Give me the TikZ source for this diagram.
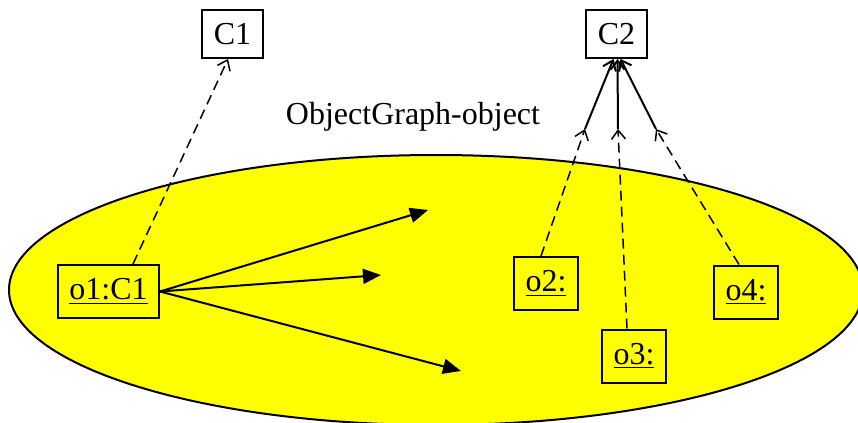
\documentclass[tikz,border=0pt]{standalone}
\usepackage{fontspec}
\setmainfont{Liberation Serif}
\usetikzlibrary{shapes.geometric,arrows.meta,positioning,calc}
\definecolor{graphyellow}{RGB}{255,255,0}
\tikzset{
  classbox/.style={rectangle,draw=black,fill=white,line width=1pt,
    minimum width=30.5pt,minimum height=24pt,inner sep=0pt},
  objbox/.style={rectangle,draw=black,fill=graphyellow,line width=1pt,
    minimum width=#1,minimum height=26.5pt,inner sep=0pt},
  objbox/.default={32pt},
  graphshape/.style={ellipse,draw=black,fill=graphyellow,line width=1pt,
    minimum width=427pt,minimum height=135pt,inner sep=0pt},
  linkarrow/.style={-{Triangle[length=9pt,width=7.5pt]},line width=1pt},
  instarrow/.style={-{Straight Barb[length=4.5pt,width=7pt]},line width=0.75pt,
    dash pattern=on 5pt off 3pt},
  typearrow/.style={-{Straight Barb[length=4.5pt,width=7pt]},line width=1pt},
}
\begin{document}
\begin{tikzpicture}[x=0.5pt,y=-0.5pt,font=\fontsize{16}{19}\selectfont]
  \useasboundingbox (0,0) rectangle (858,423);
  % object graph area
  \node[graphshape] (graph) at (436,290) {};
  \node (title) at (413,117) {ObjectGraph-object};
  % classes
  \node[classbox] (c1) at (232.5,34) {C1};
  \node[classbox] (c2) at (616.5,34) {C2};
  % objects
  \node[objbox=50.5pt] (o1) at (108.5,291.5) {\underline{o1:C1}};
  \node[objbox] (o2) at (546,283.5) {\underline{o2:}};
  \node[objbox] (o3) at (634,356) {\underline{o3:}};
  \node[objbox] (o4) at (746,292) {\underline{o4:}};
  % free ends
  \coordinate (t1) at (428,210);
  \coordinate (t2) at (381,275);
  \coordinate (t3) at (461,371);
  \coordinate (p2) at (585,129);
  \coordinate (p3) at (618,129);
  \coordinate (p4) at (656,129);
  \draw[linkarrow] (o1.east) -- (t1);
  \draw[linkarrow] (o1.east) -- (t2);
  \draw[linkarrow] (o1.east) -- (t3);
  \draw[instarrow] ([xshift=12.25pt]o1.north) -- ([xshift=-2.25pt]c1.south);
  \draw[instarrow] ([xshift=-2.5pt]o2.north) -- (p2);
  \draw[instarrow] ([xshift=-3.5pt]o3.north) -- (p3);
  \draw[instarrow] ([xshift=-3.5pt]o4.north) -- (p4);
  \draw[typearrow] (p2) -- ([xshift=-1.5pt]c2.south);
  \draw[typearrow] (p3) -- ([xshift=0.5pt]c2.south);
  \draw[typearrow] (p4) -- ([xshift=2pt]c2.south);
\end{tikzpicture}
\end{document}
